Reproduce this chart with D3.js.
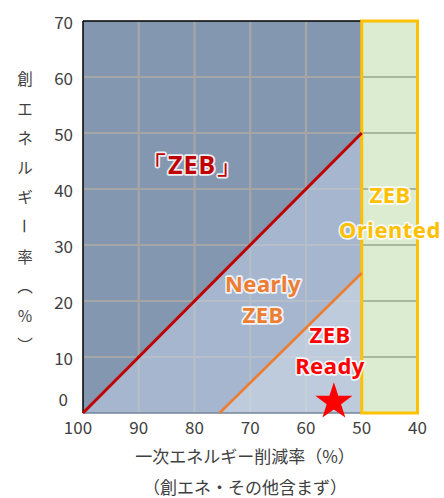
<!DOCTYPE html>
<html><head><meta charset="utf-8">
<script src="https://cdn.jsdelivr.net/npm/d3@7"></script>
<style>
html,body{margin:0;padding:0;background:#fff;}
svg{display:block;}
</style></head>
<body>
<svg id="chart" width="444" height="498"></svg>
<script>
// ---- data ----
const xTicks = [100, 90, 80, 70, 60, 50, 40];
const yTicks = [0, 10, 20, 30, 40, 50, 60, 70];
const xTickLabels = ["100", "90", "80", "70", "60", "50", "40"];
const yTickLabels = ["0", "10", "20", "30", "40", "50", "60", "70"];
const zebLine = [[100, 0], [50, 50]];          // 『ZEB』 boundary (red)
const nearlyLine = [[75.5, 0], [50, 25]];      // Nearly ZEB boundary (orange)
const orientedRange = [50, 40];                // ZEB Oriented band
const starPoint = [[55, 2]];                   // marker
const xTitle = ["一次エネルギー削減率（%）", "（創エネ・その他含まず）"];
const yTitleChars = ["創", "エ", "ネ", "ル", "ギ", "ー", "率", "（", "％", "）"];

const svg = d3.select("#chart");
const x = d3.scaleLinear().domain([100, 40]).range([83, 417.5]);
const y = d3.scaleLinear().domain([0, 70]).range([413, 21]);
const JP = "'Noto Sans CJK JP','Noto Sans',sans-serif";

// dark background (100 -> 50)
svg.append("rect")
  .attr("x", x(100)).attr("y", y(70))
  .attr("width", x(50) - x(100)).attr("height", y(0) - y(70))
  .attr("fill", "#8497B0");

// gridlines
const g = svg.append("g");
g.selectAll(".hg").data(yTicks.filter(d => d > 0 && d < 70)).join("line")
  .attr("x1", x(100)).attr("x2", x(40))
  .attr("y1", d => y(d)).attr("y2", d => y(d))
  .attr("stroke", "#A6A6A6").attr("stroke-width", 2.2);
g.selectAll(".vg").data(xTicks.filter(d => d < 100 && d > 50)).join("line")
  .attr("x1", d => x(d)).attr("x2", d => x(d))
  .attr("y1", y(0)).attr("y2", y(70))
  .attr("stroke", "#A6A6A6").attr("stroke-width", 2.2);

// region overlays
const area = d3.area().x(d => x(d[0])).y0(y(0)).y1(d => y(d[1]));
svg.append("path").datum(zebLine).attr("d", area)
  .attr("fill", "#C5D5EC").attr("fill-opacity", 0.5);
svg.append("path").datum(nearlyLine).attr("d", area)
  .attr("fill", "#DCE4EE").attr("fill-opacity", 0.45);

// green band
svg.append("rect")
  .attr("x", x(orientedRange[0])).attr("y", y(70))
  .attr("width", x(orientedRange[1]) - x(orientedRange[0])).attr("height", y(0) - y(70))
  .attr("fill", "#A9D18E").attr("fill-opacity", 0.42);

// axes frame lines
svg.append("line").attr("x1", x(100)).attr("x2", x(40)).attr("y1", y(70)).attr("y2", y(70))
  .attr("stroke", "#000").attr("stroke-width", 1.5);
svg.append("line").attr("x1", x(100)).attr("x2", x(100)).attr("y1", y(70)).attr("y2", y(0))
  .attr("stroke", "#000").attr("stroke-width", 1.5);
svg.append("line").attr("x1", x(100)).attr("x2", x(50)).attr("y1", y(0)).attr("y2", y(0))
  .attr("stroke", "#72849B").attr("stroke-width", 1.5);

// gold border of band
svg.append("rect")
  .attr("x", x(orientedRange[0])).attr("y", y(70))
  .attr("width", x(orientedRange[1]) - x(orientedRange[0])).attr("height", y(0) - y(70))
  .attr("fill", "none").attr("stroke", "#FFC000").attr("stroke-width", 3);

// boundary lines
const line = d3.line().x(d => x(d[0])).y(d => y(d[1]));
svg.append("path").datum(zebLine).attr("d", line)
  .attr("fill", "none").attr("stroke", "#C00000").attr("stroke-width", 3);
svg.append("path").datum(nearlyLine).attr("d", line)
  .attr("fill", "none").attr("stroke", "#ED7D31").attr("stroke-width", 2.5);

// star marker
function starPath(cx, cy, R, r) {
  const pts = [];
  for (let i = 0; i < 10; i++) {
    const a = -Math.PI / 2 + i * Math.PI / 5;
    const rad = i % 2 === 0 ? R : r;
    pts.push([cx + rad * Math.cos(a), cy + rad * Math.sin(a)]);
  }
  return "M" + pts.map(p => p.join(",")).join("L") + "Z";
}
svg.selectAll(".star").data(starPoint).join("path")
  .attr("d", d => starPath(x(d[0]), y(d[1]), 19.5, 7.6))
  .attr("fill", "#FF0000");

// tick labels
svg.selectAll(".yl").data(yTicks).join("text")
  .attr("x", d => d === 0 ? 68 : 73)
  .attr("y", d => d === 0 ? y(d) - 15 : y(d))
  .attr("dominant-baseline", "central")
  .attr("text-anchor", "end")
  .attr("font-family", JP).attr("font-size", 17).attr("fill", "#404040")
  .text((d, i) => yTickLabels[i]);
svg.selectAll(".xl").data(xTicks).join("text")
  .attr("x", d => d === 100 ? x(d) - 5 : x(d))
  .attr("y", 426)
  .attr("dominant-baseline", "central")
  .attr("text-anchor", "middle")
  .attr("font-family", JP).attr("font-size", 17).attr("fill", "#404040")
  .text((d, i) => xTickLabels[i]);

// x title
svg.selectAll(".xt").data(xTitle).join("text")
  .attr("x", 245).attr("y", (d, i) => 455 + i * 31)
  .attr("dominant-baseline", "central").attr("text-anchor", "middle")
  .attr("font-family", JP).attr("font-size", 17).attr("fill", "#404040")
  .text(d => d);

// y title (vertical, stacked)
const vertMap = {"（": "︵", "）": "︶"};
const yt = svg.append("g");
yTitleChars.forEach((c, i) => {
  const cy = 78 + i * 29.6;
  const t = yt.append("text")
    .attr("x", 25).attr("y", cy)
    .attr("dominant-baseline", "central").attr("text-anchor", "middle")
    .attr("font-family", JP).attr("font-size", 15.5).attr("fill", "#404040")
    .text(vertMap[c] || c);
  if (c === "ー") t.attr("transform", `rotate(90,25,${cy})`);
});

// region labels
const labels = [
  {lines: ["「ZEB」"], cx: 192, base: [174], color: "#C00000", size: 25, ls: 1},
  {lines: ["ZEB", "Oriented"], cx: 390, base: [203, 238], color: "#FFC000", size: 22, ls: 0.5},
  {lines: ["Nearly", "ZEB"], cx: 263, base: [292, 323], color: "#ED7D31", size: 22, ls: 0.5},
  {lines: ["ZEB", "Ready"], cx: 330, base: [343, 374], color: "#FF0000", size: 22, ls: 0.5}
];
labels.forEach(l => {
  l.lines.forEach((s, i) => {
    svg.append("text")
      .attr("x", l.cx).attr("y", l.base[i])
      .attr("text-anchor", "middle")
      .attr("font-family", "'Noto Sans','Open Sans',sans-serif")
      .attr("font-weight", "bold").attr("font-size", l.size)
      .attr("letter-spacing", l.ls)
      .attr("fill", l.color)
      .attr("stroke", "#FFFFFF").attr("stroke-width", 3.5).attr("stroke-opacity", 0.85)
      .attr("stroke-linejoin", "round")
      .attr("paint-order", "stroke")
      .text(s);
  });
});
</script>
</body></html>
